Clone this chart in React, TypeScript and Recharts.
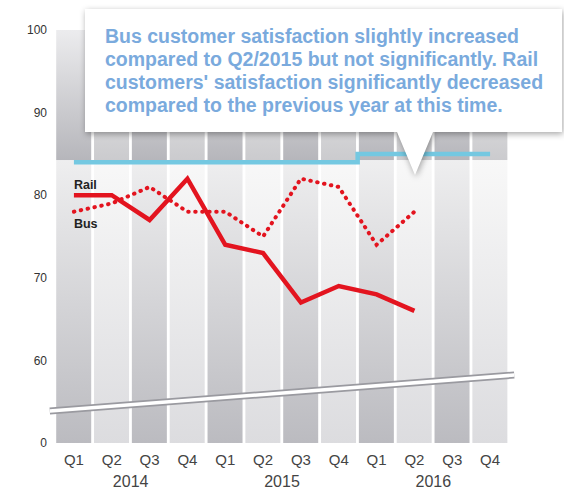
import { ComposedChart, Bar, Cell, Line, XAxis, YAxis, ReferenceLine, LabelList } from "recharts";

const quarters = ["Q1", "Q2", "Q3", "Q4", "Q1", "Q2", "Q3", "Q4", "Q1", "Q2", "Q3", "Q4"];
const quarterYears = [2014, 2014, 2014, 2014, 2015, 2015, 2015, 2015, 2016, 2016, 2016, 2016];
const railValues = [80, 80, 77, 82, 74, 73, 67, 69, 68, 66, null, null];
const busValues = [78, 79, 81, 78, 78, 75, 82, 81, 74, 78, null, null];
const targetValues = [84, 84, 84, 84, 84, 84, 84, 84, 85, 85, 85, 85];
const columnTops = [100, 100, 100, 100, 100, 100, 100, 100, 100, 100, 100, 100];

const yTicks = [50, 60, 70, 80, 90, 100];
const yTickLabels = ["0", "60", "70", "80", "90", "100"];
const yearTicks = [1.5, 5.5, 9.5];
const yearLabels = ["2014", "2015", "2016"];
// axis break: value at first and last quarter
const breakValues = [54.1, 58.0];

const calloutLines = [
  "Bus customer satisfaction slightly increased",
  "compared to Q2/2015 but not significantly. Rail",
  "customers' satisfaction significantly decreased",
  "compared to the previous year at this time.",
];

const data = quarters.map((q, i) => ({
  key: `${q} ${quarterYears[i]}`,
  idx: i,
  rail: railValues[i],
  bus: busValues[i],
  target: targetValues[i],
  column: columnTops[i],
}));

const RED = "#e3141f";

function BreakShape(p: any) {
  const ext = 0.058;
  const dx = p.x2 - p.x1;
  const dy = p.y2 - p.y1;
  const x1 = p.x1 - dx * ext, y1 = p.y1 - dy * ext;
  const x2 = p.x2 + dx * ext, y2 = p.y2 + dy * ext;
  return (
    <g>
      <line x1={x1} y1={y1} x2={x2} y2={y2} stroke="#9a9aa0" strokeWidth={7} />
      <line x1={x1} y1={y1} x2={x2} y2={y2} stroke="#ffffff" strokeWidth={3.5} />
    </g>
  );
}

export default function App() {
  return (
    <div style={{ position: "absolute", left: 0, top: 0, width: 564, height: 490, fontFamily: "'Liberation Sans', Arial, sans-serif", background: "#fff" }}>
      <ComposedChart width={564} height={490} data={data} margin={{ top: 30, right: 55, left: 0, bottom: 0 }} barCategoryGap={1.2}>
        <defs>
          <linearGradient id="colDark" x1="0" y1="0" x2="0" y2="1">
            <stop offset="0" stopColor="#ececee" />
            <stop offset="0.315" stopColor="#b6b6bb" />
            <stop offset="0.316" stopColor="#eeeeef" />
            <stop offset="1" stopColor="#bbbbc0" />
          </linearGradient>
          <linearGradient id="colLight" x1="0" y1="0" x2="0" y2="1">
            <stop offset="0" stopColor="#f3f3f3" />
            <stop offset="0.315" stopColor="#cbcbce" />
            <stop offset="0.316" stopColor="#f8f8f8" />
            <stop offset="1" stopColor="#dcdcdf" />
          </linearGradient>
        </defs>
        <XAxis
          dataKey="key"
          tickFormatter={(_v: any, i: number) => quarters[i]}
          axisLine={false}
          tickLine={false}
          tickMargin={5}
          height={22}
          interval={0}
          tick={{ fill: "#444", fontSize: 15 }}
        />
        <XAxis
          xAxisId="year"
          type="number"
          dataKey="idx"
          domain={[-0.5, 11.5]}
          ticks={yearTicks}
          tickFormatter={(v: number) => yearLabels[yearTicks.indexOf(v)]}
          axisLine={false}
          tickLine={false}
          tickMargin={5}
          height={25}
          interval={0}
          tick={{ fill: "#444", fontSize: 16 }}
        />
        <YAxis
          width={55}
          domain={[50, 100]}
          ticks={yTicks}
          tickFormatter={(v: number) => yTickLabels[yTicks.indexOf(v)]}
          axisLine={false}
          tickLine={false}
          interval={0}
          tick={{ fill: "#333", fontSize: 12 }}
        />
        <Bar dataKey="column" isAnimationActive={false}>
          {data.map((_d, i) => (
            <Cell key={i} fill={i % 2 === 0 ? "url(#colDark)" : "url(#colLight)"} />
          ))}
        </Bar>
        <ReferenceLine
          segment={[
            { x: data[0].key, y: breakValues[0] },
            { x: data[data.length - 1].key, y: breakValues[1] },
          ]}
          ifOverflow="visible"
          shape={BreakShape}
        />
        <Line type="step" dataKey="target" stroke="#74c8e1" strokeWidth={4.5} dot={false} activeDot={false} isAnimationActive={false} />
        <Line
          type="linear"
          dataKey="bus"
          stroke={RED}
          strokeWidth={4}
          strokeDasharray="0.5 6.5"
          strokeLinecap="round"
          dot={false}
          activeDot={false}
          isAnimationActive={false}
        >
          <LabelList
            dataKey="bus"
            content={(p: any) =>
              p.index === 0 ? (
                <text x={p.x} y={p.y + 16} fill="#222" fontSize={12.5} fontWeight="bold">Bus</text>
              ) : <g />
            }
          />
        </Line>
        <Line type="linear" dataKey="rail" stroke={RED} strokeWidth={4.5} dot={false} activeDot={false} isAnimationActive={false}>
          <LabelList
            dataKey="rail"
            content={(p: any) =>
              p.index === 0 ? (
                <text x={p.x} y={p.y - 6} fill="#222" fontSize={12.5} fontWeight="bold">Rail</text>
              ) : <g />
            }
          />
        </Line>
      </ComposedChart>
      <svg width={564} height={490} style={{ position: "absolute", left: 0, top: 0, pointerEvents: "none" }}>
        <path
          d="M85,9 H562 V132 H433 L415,175 L397,132 H85 Z"
          fill="#fff"
          style={{ filter: "drop-shadow(1px 2px 3px rgba(0,0,0,0.35))" }}
        />
        {calloutLines.map((line, i) => (
          <text key={i} x={105} y={43 + i * 23} fill="#7aaadd" fontSize={19.5} fontWeight="bold">
            {line}
          </text>
        ))}
      </svg>
    </div>
  );
}
